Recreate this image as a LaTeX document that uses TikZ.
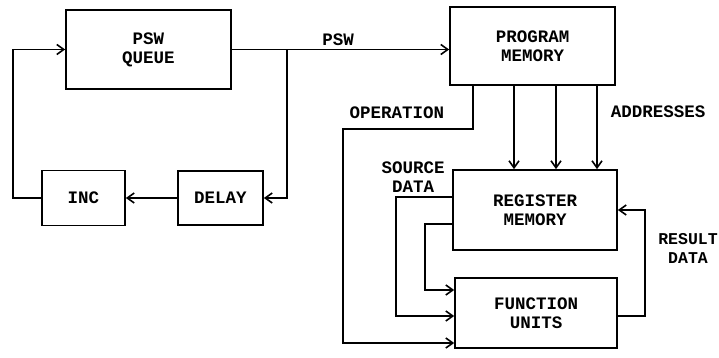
\documentclass[tikz,border=0pt]{standalone}
\usepackage{fontspec}
\setmonofont{Liberation Mono}
\usepackage{tikz}
\usetikzlibrary{positioning,arrows.meta}
\tikzset{
  % --- blocks ----------------------------------------------------------------
  blk/.style={draw,line width=1.7pt,align=center,inner sep=0pt},
  % --- flows -----------------------------------------------------------------
  ar/.style={-{Straight Barb[length=7pt,width=10pt,line width=1.6pt]},line width=1.6pt},
  ln/.style={line width=1.6pt},
  lab/.style={align=center,inner sep=1pt},
}
\begin{document}
\begin{tikzpicture}[x=1pt,y=-1pt,font=\ttfamily\bfseries\fontsize{17.5}{19}\selectfont]
  \useasboundingbox (0,0) rectangle (719,358);
  % left loop
  \node[blk,minimum width=165pt,minimum height=79pt] (pq) at (148.5,49.5) {PSW\\QUEUE};
  \node[blk,minimum width=83pt,minimum height=55pt] (inc) at (83.5,198) {INC};
  \node[blk,minimum width=85pt,minimum height=54pt] (dl) at (220.5,198) {DELAY};
  % right side
  \node[blk,minimum width=165pt,minimum height=78pt] (pm) at (532.5,46) {PROGRAM\\MEMORY};
  \node[blk,minimum width=164pt,minimum height=80pt] (rm) at (535,210) {REGISTER\\MEMORY};
  \node[blk,minimum width=162pt,minimum height=70pt] (fu) at (536,313) {FUNCTION\\UNITS};
  % bends
  \coordinate (br) at (287,49.5);
  \coordinate (lft) at (13,198);
  \coordinate (opa) at (343,129);
  \coordinate (sda) at (396,316);
  \coordinate (sdb) at (425,290);
  \coordinate (rda) at (645,316);
  % psw loop
  \draw[ar] (pq.east) -- (pq.east -| pm.west);
  \draw[ar] (br) |- (dl.east);
  \draw[ar] (dl) -- (inc);
  \draw[ar] (inc.west) -- (lft) |- (pq.west);
  % addresses
  \foreach \dx in {-18.5,23.5,64.5}
    \draw[ar] ([xshift=\dx pt]pm.south) -- ([xshift=\dx pt]pm.south |- rm.north);
  % operation
  \draw[ar] ([xshift=-59.5pt]pm.south) |- (opa) |- ([yshift=-30pt]fu.west);
  % source data
  \draw[ar] ([yshift=13pt]rm.west) -| (sda) -- (sda -| fu.west);
  \draw[ar] ([yshift=-14pt]rm.west) -| (sdb) -- (sdb -| fu.west);
  % result data
  \draw[ar] ([yshift=-3pt]fu.east) -- (rda) |- (rm.east);
  % labels
  \node[lab] (lpsw) at (338,40) {PSW};
  \node[lab] (lop) at (397,113) {OPERATION};
  \node[lab] (ladr) at (658,112) {ADDRESSES};
  \node[lab] (lsd) at (413,177) {SOURCE\\DATA};
  \node[lab,font=\ttfamily\bfseries\fontsize{16.5}{19}\selectfont] (lrd) at (688,248) {RESULT\\DATA};
\end{tikzpicture}
\end{document}
